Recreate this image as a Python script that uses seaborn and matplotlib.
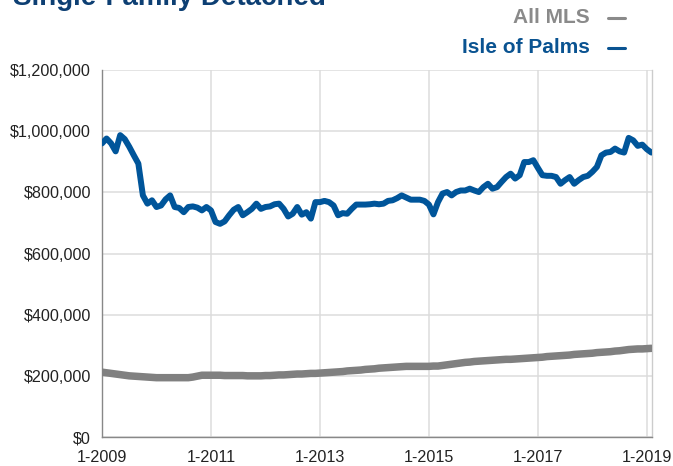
import numpy as np
import pandas as pd
import matplotlib
matplotlib.use("Agg")
import matplotlib.pyplot as plt
import matplotlib.ticker as mticker
import seaborn as sns

# monthly median prices, Jan 2009 - Feb 2019 (in $1,000)
isle_of_palms = [
    960, 976, 960, 934, 987, 974, 949, 921, 894, 790, 763, 774,
    752, 757, 777, 790, 752, 749, 735, 752, 754, 750, 741, 752,
    741, 703, 697, 705, 725, 743, 752, 725, 735, 746, 763, 746,
    752, 754, 761, 763, 746, 721, 730, 752, 727, 735, 714, 768,
    768, 772, 768, 757, 725, 732, 730, 746, 760, 760, 760, 761,
    763, 761, 763, 772, 774, 781, 790, 783, 776, 776, 776, 772,
    760, 728, 768, 796, 801, 790, 801, 806, 806, 812, 806, 801,
    817, 828, 812, 817, 834, 850, 861, 845, 856, 899, 899, 905,
    880, 856, 854, 854, 850, 828, 840, 850, 828, 840, 850, 854,
    867, 883, 921, 930, 932, 943, 934, 930, 978, 970, 952, 956,
    941, 930,
]
all_mls = [
    212, 210, 208, 206, 204, 202, 200, 199, 198, 197, 196, 195,
    194, 194, 194, 194, 194, 194, 194, 194, 196, 199, 202, 202,
    202, 202, 202, 201, 201, 201, 201, 201, 200, 200, 200, 200,
    201, 201, 202, 203, 203, 204, 205, 206, 206, 207, 208, 208,
    209, 210, 211, 212, 213, 214, 216, 217, 218, 219, 221, 222,
    223, 225, 226, 227, 228, 229, 230, 231, 231, 231, 231, 231,
    231, 232, 232, 234, 236, 238, 240, 242, 244, 245, 247, 248,
    249, 250, 251, 252, 253, 254, 254, 255, 256, 257, 258, 259,
    260, 261, 263, 264, 265, 266, 267, 268, 270, 271, 272, 273,
    274, 276, 277, 278, 279, 281, 282, 284, 286, 287, 288, 288,
    289, 290,
]
tick_labels = ["1-2009", "1-2011", "1-2013", "1-2015", "1-2017", "1-2019"]
series_names = ["All MLS", "Isle of Palms"]
colors = {"All MLS": "#808080", "Isle of Palms": "#00559a"}

months = np.arange(len(isle_of_palms))
df = pd.DataFrame({
    "month": np.concatenate([months, months]),
    "price": np.array(all_mls + isle_of_palms) * 1000,
    "area": ["All MLS"] * len(all_mls) + ["Isle of Palms"] * len(isle_of_palms),
})

sns.set_style("white")
plt.rcParams["font.family"] = ["Liberation Sans", "DejaVu Sans"]

fig = plt.figure(figsize=(6.73, 4.66), dpi=100)
ax = fig.add_axes([0.1516, 0.0622, 0.8176, 0.7876])

sns.lineplot(data=df, x="month", y="price", hue="area", palette=colors,
             hue_order=series_names, ax=ax, legend=False)
for line, lw in zip(ax.lines, [5.4, 4.3]):
    line.set_linewidth(lw)
    line.set_solid_capstyle("round")
    line.set_solid_joinstyle("round")
ax.lines[0].set_zorder(3)
ax.lines[1].set_zorder(4)

ax.set_xlim(0, 121.2)
ax.set_ylim(0, 1200000)
ax.set_xticks(np.arange(0, 121, 24))
ax.set_xticklabels(tick_labels)
ax.set_yticks(np.arange(0, 1200001, 200000))
ax.yaxis.set_major_formatter(mticker.FuncFormatter(lambda v, p: f"${v:,.0f}"))
ax.set_xlabel("")
ax.set_ylabel("")

ax.grid(True, color="#dcdcdc", linewidth=1.1)
ax.set_axisbelow(True)
ax.tick_params(axis="both", length=5, width=0.8, color="#888888",
               labelsize=11.6, labelcolor="#222222", direction="out", pad=3)
ax.tick_params(axis="x", pad=4)
for side in ["left", "bottom"]:
    ax.spines[side].set_color("#888888")
    ax.spines[side].set_linewidth(1.0)
ax.spines["top"].set_visible(False)
ax.spines["right"].set_color("#cccccc")
ax.spines["right"].set_linewidth(1.0)

# cropped title at the very top
fig.text(0.02, 0.9895, "Single-Family Detached", fontsize=20, fontweight="bold",
         color="#0d3f73", ha="left", va="baseline")

# legend drawn as text
leg_font = ["Liberation Sans Narrow", "Liberation Sans", "DejaVu Sans"]
fig.text(0.876, 0.963, "All MLS", fontsize=15, fontweight="bold", color="#8a8a8a",
         ha="right", va="center", family=leg_font)
fig.text(0.876, 0.897, "Isle of Palms", fontsize=15, fontweight="bold", color="#0a5391",
         ha="right", va="center", family=leg_font)
fig.add_artist(plt.Line2D([0.903, 0.929], [0.962, 0.962], color="#8a8a8a", lw=2.2,
                          transform=fig.transFigure))
fig.add_artist(plt.Line2D([0.903, 0.929], [0.896, 0.896], color="#0a5391", lw=2.2,
                          transform=fig.transFigure))

fig.savefig("out.png", dpi=100)
